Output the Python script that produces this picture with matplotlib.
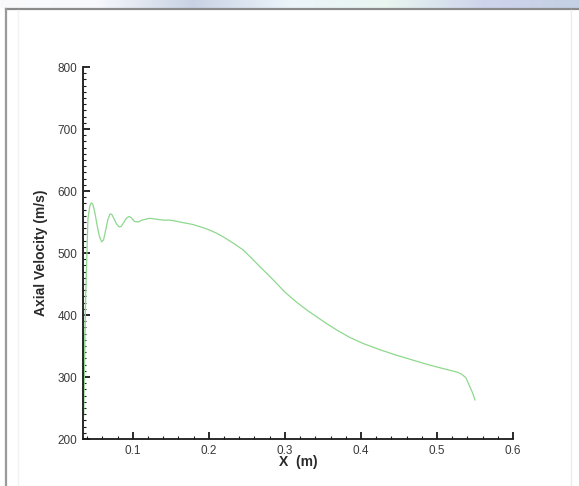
import numpy as np
import matplotlib
matplotlib.use("Agg")
import matplotlib.pyplot as plt
from matplotlib.ticker import MultipleLocator

plt.rcParams['font.family'] = ['Liberation Sans', 'DejaVu Sans']

# axial position (m) and axial velocity (m/s) along the nozzle
x_pos = [0.0345, 0.0355, 0.0380, 0.0410, 0.0435, 0.0455, 0.0475, 0.0500, 0.0530,
         0.0560, 0.0590, 0.0615, 0.0640, 0.0670, 0.0700, 0.0725, 0.0750, 0.0785,
         0.0820, 0.0850, 0.0880, 0.0915, 0.0950, 0.0980, 0.1020, 0.1070, 0.1120,
         0.1220, 0.1400, 0.1490, 0.1580, 0.1660, 0.1790, 0.1920, 0.2010, 0.2100,
         0.2190, 0.2320, 0.2450, 0.2560, 0.2670, 0.2780, 0.2890, 0.3000, 0.3150,
         0.3300, 0.3420, 0.3550, 0.3680, 0.3850, 0.4030, 0.4250, 0.4470, 0.4690,
         0.4910, 0.5100, 0.5260, 0.5320, 0.5380, 0.5430, 0.5470, 0.5500]
velocity = [820, 240, 430, 555, 576, 581, 578, 566, 545,
            527, 518, 521, 535, 553, 563, 562, 556, 547,
            542, 543, 549, 556, 559, 557, 551, 550, 553,
            556, 553, 553, 551, 549, 546, 541, 537, 532,
            526, 516, 505, 492, 478, 465, 451, 437, 421,
            407, 397, 386, 376, 364, 354, 344, 335, 327,
            319, 313, 308, 305, 299, 285, 274, 263]

x_ticks = [0.1, 0.2, 0.3, 0.4, 0.5, 0.6]
x_tick_labels = ['0.1', '0.2', '0.3', '0.4', '0.5', '0.6']
y_ticks = [200, 300, 400, 500, 600, 700, 800]
y_tick_labels = ['200', '300', '400', '500', '600', '700', '800']

fig = plt.figure(figsize=(5.79, 4.86), dpi=100)
fig.patch.set_facecolor('white')

# window chrome: gradient strip on top and thin grey frame lines
chrome = fig.add_axes([0, 1 - 8 / 486, 1, 8 / 486])
stops = np.array([[250, 250, 252], [246, 248, 252], [200, 210, 228], [236, 244, 250],
                  [232, 246, 240], [206, 212, 236], [196, 208, 228]]) / 255.0
pos = np.linspace(0, 1, len(stops))
grad = np.stack([np.interp(np.linspace(0, 1, 579), pos, stops[:, c]) for c in range(3)], axis=-1)
chrome.imshow(grad[np.newaxis, :, :], aspect='auto', extent=[0, 1, 0, 1])
chrome.axis('off')
fig.add_artist(plt.Line2D([6 / 579, 1], [1 - 9 / 486] * 2, color='#8a8a8a', lw=1.6,
                          transform=fig.transFigure))
fig.add_artist(plt.Line2D([6 / 579] * 2, [0, 1 - 9 / 486], color='#9a9a9a', lw=1.6,
                          transform=fig.transFigure))
fig.add_artist(plt.Line2D([571 / 579] * 2, [0, 1 - 10 / 486], color='#ececec', lw=1.0,
                          transform=fig.transFigure))
fig.add_artist(plt.Line2D([18 / 579] * 2, [0, 1 - 10 / 486], color='#f2f2f2', lw=1.0,
                          transform=fig.transFigure))

ax = fig.add_axes([83 / 579, 47 / 486, 430 / 579, 372 / 486])
ax.plot(x_pos, velocity, color='#8ed88e', lw=0.9, clip_on=True)

ax.set_xlim(0.0345, 0.6)
ax.set_ylim(200, 800)
ax.set_xticks(x_ticks)
ax.set_xticklabels(x_tick_labels)
ax.set_yticks(y_ticks)
ax.set_yticklabels(y_tick_labels)
ax.xaxis.set_minor_locator(MultipleLocator(0.02))
ax.yaxis.set_minor_locator(MultipleLocator(10))

for side in ['top', 'right']:
    ax.spines[side].set_visible(False)
for side in ['left', 'bottom']:
    ax.spines[side].set_linewidth(1.3)
    ax.spines[side].set_color('#1a1a1a')

ax.tick_params(which='major', direction='in', length=5, width=1.3, color='#1a1a1a',
               labelsize=8.5, labelcolor='#3a3a3a', pad=4)
ax.tick_params(which='minor', direction='in', length=2.5, width=0.8, color='#1a1a1a')

ax.set_xlabel('X  (m)', fontsize=10, fontweight='bold', color='#2a2a2a', labelpad=-1)
ax.set_ylabel('Axial Velocity (m/s)', fontsize=10, fontweight='bold', color='#2a2a2a',
              labelpad=7)

fig.savefig('out.png', dpi=100)
